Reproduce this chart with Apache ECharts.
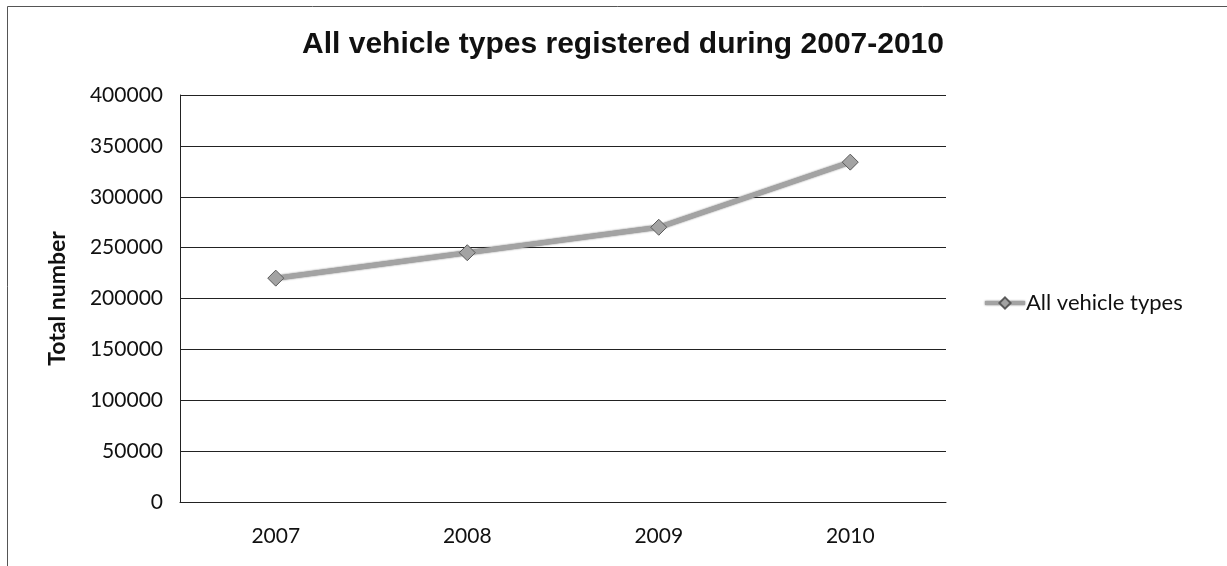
<!DOCTYPE html>
<html>
<head>
<meta charset="utf-8">
<script src="https://cdn.jsdelivr.net/npm/echarts@6/dist/echarts.min.js"></script>
<style>
  html, body { margin: 0; padding: 0; background: #fff; }
  #chart { width: 1227px; height: 566px; }
</style>
</head>
<body>
<div id="chart"></div>
<script>
// Registered vehicles per year
const years = ['2007', '2008', '2009', '2010'];
const allVehicleTypes = [220000, 245000, 270000, 334000];
const seriesName = 'All vehicle types';
const titleText = 'All vehicle types registered during 2007-2010';
const yAxisTitle = 'Total number';

const labelFont = 'Lato, "Open Sans", sans-serif';

const chart = echarts.init(document.getElementById('chart'), null, { renderer: 'canvas' });
chart.setOption({
  animation: false,
  backgroundColor: '#fff',
  graphic: [{
    type: 'rect',
    shape: { x: 7.5, y: 6.5, width: 1240, height: 580 },
    style: { fill: 'none', stroke: '#555', lineWidth: 1 }
  }],
  title: {
    text: titleText,
    left: 618,
    top: 25,
    textAlign: 'center',
    textStyle: { fontFamily: 'Arial, "Liberation Sans", sans-serif', fontWeight: 'bold', fontSize: 30, color: '#111' }
  },
  legend: {
    data: [seriesName],
    orient: 'vertical',
    left: 978,
    top: 287,
    itemWidth: 40,
    itemHeight: 14,
    itemGap: 4,
    lineStyle: { width: 4, color: '#a3a3a3', shadowColor: 'rgba(60,60,60,0.8)', shadowBlur: 2 },
    textStyle: { fontFamily: labelFont, fontSize: 22, color: '#111', padding: [0, 0, 0, -4] }
  },
  grid: { left: 180, right: 281, top: 95, bottom: 64 },
  xAxis: {
    type: 'category',
    data: years,
    boundaryGap: true,
    axisLine: { show: true, lineStyle: { color: '#222', width: 1 } },
    axisTick: { show: false },
    axisLabel: { fontFamily: labelFont, fontSize: 21, color: '#111', margin: 24 }
  },
  yAxis: {
    type: 'value',
    min: 0,
    max: 400000,
    interval: 50000,
    name: yAxisTitle,
    nameLocation: 'middle',
    nameGap: 111,
    nameTextStyle: { fontFamily: labelFont, fontWeight: 'bold', fontSize: 23, color: '#111' },
    axisLine: { show: true, lineStyle: { color: '#222', width: 1 } },
    axisTick: { show: false },
    axisLabel: {
      fontFamily: labelFont, fontSize: 21, color: '#111', margin: 17,
      formatter: v => String(v)
    },
    splitLine: { show: true, lineStyle: { color: '#222', width: 1 } }
  },
  series: [{
    name: seriesName,
    type: 'line',
    data: allVehicleTypes,
    symbol: 'diamond',
    symbolSize: 16,
    itemStyle: { color: '#a3a3a3', borderColor: '#5a5a5a', borderWidth: 1 },
    lineStyle: { color: '#a3a3a3', width: 5, shadowColor: 'rgba(60,60,60,0.8)', shadowBlur: 2 }
  }]
});
</script>
</body>
</html>
